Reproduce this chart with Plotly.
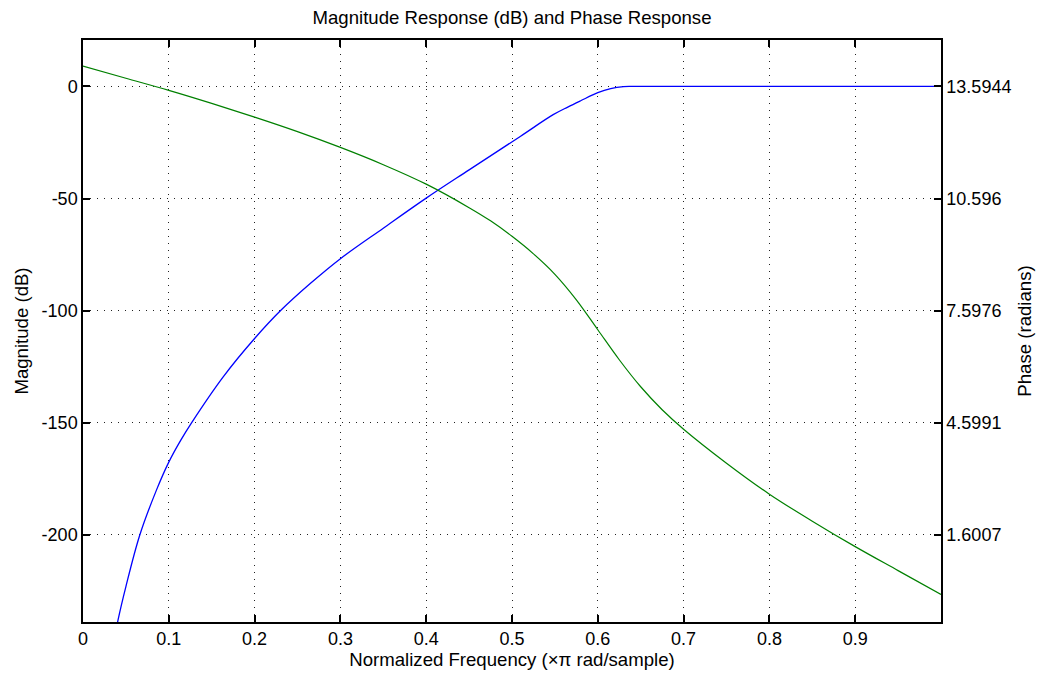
import plotly.graph_objects as go

# ---------------- data ----------------
mag_freq = [0.030, 0.035, 0.0408, 0.05, 0.0662, 0.0856, 0.10, 0.114, 0.1265, 0.1634,
            0.20, 0.2315, 0.2645, 0.30, 0.35, 0.40, 0.45, 0.5096, 0.548, 0.565, 0.58,
            0.60, 0.615, 0.63, 0.64, 0.70, 0.80, 0.90, 1.00]
mag_db = [-262.0, -250.0, -238.0, -223.0, -200.0, -180.0, -167.5, -157.7, -150.0, -129.5,
          -112.4, -99.5, -88.0, -76.8, -63.2, -49.8, -37.2, -22.3, -12.6, -9.2, -6.4,
          -2.8, -1.0, -0.1, 0.0, 0.0, 0.0, 0.0, 0.0]

phase_freq = [0.0, 0.05, 0.10, 0.15, 0.20, 0.25, 0.30, 0.35, 0.40, 0.45, 0.475, 0.50,
              0.525, 0.55, 0.575, 0.60, 0.625, 0.65, 0.675, 0.70, 0.75, 0.80,
              0.85, 0.90, 0.95, 1.00]
phase_rad = [14.137, 13.813, 13.488, 13.140, 12.774, 12.386, 11.964, 11.502, 10.981, 10.353, 10.000, 9.586,
             9.118, 8.571, 7.889, 7.088, 6.286, 5.564, 4.950, 4.429, 3.520, 2.692,
             1.970, 1.289, 0.648, 0.011]

x_ticks = [0, 0.1, 0.2, 0.3, 0.4, 0.5, 0.6, 0.7, 0.8, 0.9]
x_tick_labels = ["0", "0.1", "0.2", "0.3", "0.4", "0.5", "0.6", "0.7", "0.8", "0.9"]
mag_ticks = [-200, -150, -100, -50, 0]
mag_tick_labels = ["-200", "-150", "-100", "-50", "0"]
phase_ticks = [1.6007, 4.5991, 7.5976, 10.596, 13.5944]
phase_tick_labels = ["1.6007", "4.5991", "7.5976", "10.596", "13.5944"]

# ---------------- layout ----------------
FONT = "Liberation Sans, Arial, sans-serif"
FS = 18
FS_T = 18.6
mag_range = [-238.8, 20.7]
# right axis is aligned with left: phase tick <-> magnitude tick
slope = (phase_ticks[-1] - phase_ticks[0]) / (mag_ticks[-1] - mag_ticks[0])
phase_range = [phase_ticks[-1] + slope * (r - mag_ticks[-1]) for r in mag_range]

fig = go.Figure()
fig.add_trace(go.Scatter(x=mag_freq, y=mag_db, mode="lines",
                         line=dict(color="#0000ff", width=1.3, shape="spline", smoothing=1.0),
                         name="Magnitude", yaxis="y"))
fig.add_trace(go.Scatter(x=phase_freq, y=phase_rad, mode="lines",
                         line=dict(color="#008000", width=1.2, shape="spline", smoothing=1.0),
                         name="Phase", yaxis="y2"))

grid = dict(showgrid=True, gridcolor="#222222", gridwidth=1, griddash="1px,6px")

fig.update_layout(
    width=1041, height=677,
    margin=dict(l=83, r=100, t=40, b=55),
    paper_bgcolor="white", plot_bgcolor="white",
    showlegend=False,
    font=dict(family=FONT, size=FS, color="black"),
    title=dict(text="Magnitude Response (dB) and Phase Response",
               x=0.5, xref="paper", xanchor="center",
               y=1 - 17.5 / 677, yref="container", yanchor="middle",
               font=dict(family=FONT, size=FS_T, color="black")),
    xaxis=dict(range=[0, 1], tickvals=x_ticks, ticktext=x_tick_labels,
               showline=True, linecolor="black", linewidth=1.5, mirror="ticks",
               ticks="inside", ticklen=7, tickcolor="black", tickwidth=1.5,
               zeroline=False, automargin=False,
               title=dict(text="Normalized Frequency (×π rad/sample)", standoff=4,
                          font=dict(family=FONT, size=FS_T)),
               tickfont=dict(family=FONT, size=FS),
               **grid),
    yaxis=dict(range=mag_range, tickvals=mag_ticks, ticktext=mag_tick_labels,
               showline=True, linecolor="black", linewidth=1.5,
               ticks="inside", ticklen=7, tickcolor="black", tickwidth=1.5,
               zeroline=False, automargin=False,
               title=dict(text="Magnitude (dB)", standoff=8,
                          font=dict(family=FONT, size=FS_T)),
               tickfont=dict(family=FONT, size=FS),
               **grid),
    yaxis2=dict(range=phase_range, tickvals=phase_ticks, ticktext=phase_tick_labels,
                overlaying="y", side="right",
                showline=True, linecolor="black", linewidth=1.5,
                ticks="inside", ticklen=7, tickcolor="black", tickwidth=1.5,
                zeroline=False, showgrid=False, automargin=False,
                title=dict(text="Phase (radians)", standoff=8,
                           font=dict(family=FONT, size=FS_T)),
                tickfont=dict(family=FONT, size=FS)),
)

fig.write_html("out.html")
